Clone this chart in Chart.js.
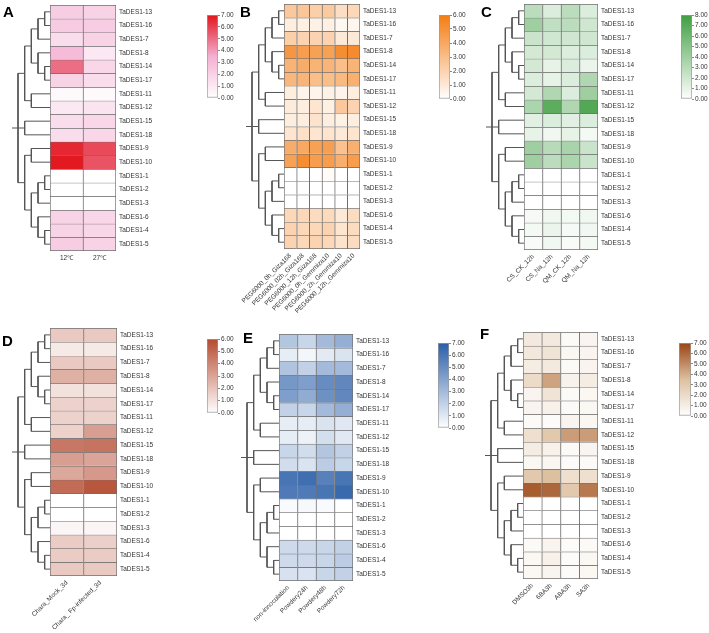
<!DOCTYPE html>
<html><head><meta charset="utf-8">
<script src="https://cdn.jsdelivr.net/npm/chart.js@4.4.1/dist/chart.umd.min.js"></script>
<style>
body{margin:0;background:#fff;width:709px;height:633px;overflow:hidden;position:relative}
canvas{position:absolute}
.lab{position:absolute;font:bold 15px 'Liberation Sans Narrow','Liberation Sans',Arial,sans-serif;line-height:15px;color:#000}
</style></head><body>
<script>
// ---------- data ----------
const genes = ['TaDES1-13','TaDES1-16','TaDES1-7','TaDES1-8','TaDES1-14','TaDES1-17','TaDES1-11','TaDES1-12','TaDES1-15','TaDES1-18','TaDES1-9','TaDES1-10','TaDES1-1','TaDES1-2','TaDES1-3','TaDES1-6','TaDES1-4','TaDES1-5'];
// tree topology (leaf suffixes)
const tree = [[[[['13','16'],'7'],['8',['14','17']]],['11','12']], ['15','18'], [['9','10'],[[['1','2'],'3'],['6',['4','5']]]]];

// Panel A
const colsA = ['12℃','27℃'];
const a12C = [2.2,2.3,1.5,3.0,5.0,2.0,0.2,1.0,1.5,1.5,6.6,6.9,0,0,0,2.0,2.0,2.2];
const a27C = [2.0,2.2,2.0,1.0,1.8,1.5,0.2,1.2,1.8,1.8,5.8,5.6,0,0,0,1.8,1.8,2.0];
const ticksA = [0,1,2,3,4,5,6,7];
// Panel B
const colsB = ['PEG6000_0h_Giza168','PEG6000_02h_Giza168','PEG6000_12h_Giza168','PEG6000_0h_Gemmiza10','PEG6000_2h_Gemmiza10','PEG6000_12h_Gemmiza10'];
const b0hGiza  = [2.5,0.8,2.2,4.8,3.5,3.3,0.8,0.9,0.8,1.2,3.8,4.3,0,0,0,1.8,2.0,2.0];
const b2hGiza  = [2.6,0.7,2.0,4.5,3.8,3.4,0.5,0.8,0.8,1.4,4.0,5.2,0,0,0,1.8,1.8,1.8];
const b12hGiza = [2.2,0.6,2.0,4.3,3.5,3.0,0.5,1.2,1.3,1.2,4.3,4.5,0,0,0,1.6,1.8,2.0];
const b0hGem   = [2.4,0.7,2.0,4.3,3.4,3.0,0.6,0.7,0.8,1.2,4.4,4.5,0.2,0,0,1.7,2.0,1.8];
const b2hGem   = [1.5,0.3,1.0,5.2,3.0,3.2,0.5,2.5,0.6,1.0,2.8,3.7,0,0,0,1.0,1.2,1.3];
const b12hGem  = [1.8,0.4,1.0,5.3,3.5,3.6,0.8,2.0,0.8,1.2,3.6,4.5,0,0,0,1.6,1.6,1.6];
const ticksB = [0,1,2,3,4,5,6];
// Panel C
const colsC = ['CS_CK_12h','CS_Na_12h','QM_CK_12h','QM_Na_12h'];
const cCSCK = [2.8,4.0,2.2,1.8,1.8,1.5,1.8,3.5,1.2,1.0,4.0,4.0,0,0,0,0.4,0.5,0.3];
const cCSNa = [1.5,2.6,2.0,1.8,1.0,1.0,3.3,6.8,1.5,0.6,3.0,2.8,0,0,0,0.6,0.8,0.6];
const cQMCK = [2.8,2.8,2.0,1.5,1.5,1.5,1.5,3.3,1.2,1.0,3.6,3.5,0,0,0,0.5,0.4,0.3];
const cQMNa = [1.5,2.0,2.0,1.5,0.8,3.3,4.0,7.2,1.5,0.5,2.2,2.2,0,0,0,0.6,0.6,0.5];
const ticksC = [0,1,2,3,4,5,6,7,8];
// Panel D
const colsD = ['Chara_Mock_3d','Chara_ Fp-infected_3d'];
const dMock = [1.8,0.7,1.8,2.6,1.0,1.5,1.5,1.5,4.5,3.2,2.9,4.9,0,0,0.3,1.7,1.7,1.8];
const dFp   = [1.8,0.7,1.8,2.6,1.0,1.5,1.5,3.2,4.6,3.0,3.4,5.6,0,0,0.3,1.6,1.7,1.8];
const ticksD = [0,1,2,3,4,5,6];
// Panel E
const colsE = ['non-innoculation','Powdery24h','Powdery48h','Powdery72h'];
const eNon = [2.5,0.8,2.6,4.5,4.2,2.0,0.8,0.8,1.8,1.5,6.0,5.8,0.2,0,0,1.6,1.6,1.3];
const e24h = [1.8,0.4,2.0,4.2,3.6,1.8,0.8,0.6,1.5,1.2,6.3,5.8,0.3,0,0,1.6,1.6,1.2];
const e48h = [3.0,0.9,3.0,5.0,4.8,3.0,1.2,1.4,2.5,2.2,5.5,6.0,0.2,0,0,1.8,1.8,1.8];
const e72h = [3.5,1.2,3.0,5.2,5.2,3.5,1.0,1.0,2.0,1.8,6.0,6.5,0,0,0,2.0,2.2,2.0];
const ticksE = [0,1,2,3,4,5,6,7];
// Panel F
const colsF = ['DMSO3h','6BA3h','ABA3h','SA3h'];
const fDMSO = [1.2,1.3,1.0,2.0,0.6,0.6,0.3,1.8,1.0,0.4,3.0,6.3,0,0,0,0.3,0.4,0.4];
const f6BA  = [1.2,1.5,1.2,4.3,1.5,0.8,0.2,3.0,0.8,0.5,3.5,6.0,0,0,0,0.6,0.8,0.6];
const fABA  = [0.3,0.5,0.3,0.7,0.3,0.3,0.6,4.5,0.3,0.2,1.8,3.0,0,0,0,0.2,0.2,0.2];
const fSA   = [0.6,0.6,0.6,1.0,0.4,0.4,0.5,4.5,0.6,0.3,1.8,5.5,0,0,0,0.3,0.4,0.4];
const ticksF = [0,1,2,3,4,5,6,7];

// ---------- layout / style ----------
const panels = [
  {letter:'A', lx:3, ly:4, cols:colsA, values:[a12C,a27C], ticks:ticksA, rot:0,
   hx:50, hy:5, hw:66, hh:246, cx:207, cy:15, cw:10, ch:83,
   stops:[[0,'#ffffff'],[0.5,'#f3b0d2'],[1,'#e2151b']]},
  {letter:'B', lx:240, ly:4, cols:colsB, values:[b0hGiza,b2hGiza,b12hGiza,b0hGem,b2hGem,b12hGem], ticks:ticksB, rot:45,
   hx:284, hy:4, hw:76, hh:245, cx:439, cy:15, cw:10, ch:84,
   stops:[[0,'#ffffff'],[1,'#f47c12']]},
  {letter:'C', lx:481, ly:4, cols:colsC, values:[cCSCK,cCSNa,cQMCK,cQMNa], ticks:ticksC, rot:45,
   hx:524, hy:4, hw:74, hh:246, cx:681, cy:15, cw:10, ch:84,
   stops:[[0,'#ffffff'],[1,'#3f9e42']]},
  {letter:'D', lx:2, ly:333, cols:colsD, values:[dMock,dFp], ticks:ticksD, rot:45,
   hx:50, hy:328, hw:67, hh:248, cx:207, cy:339, cw:10, ch:74,
   stops:[[0,'#ffffff'],[1,'#b44a30']]},
  {letter:'E', lx:243, ly:330, cols:colsE, values:[eNon,e24h,e48h,e72h], ticks:ticksE, rot:45,
   hx:279, hy:334, hw:74, hh:247, cx:438, cy:343, cw:10, ch:85,
   stops:[[0,'#ffffff'],[1,'#2a5ea8']]},
  {letter:'F', lx:480, ly:326, cols:colsF, values:[fDMSO,f6BA,fABA,fSA], ticks:ticksF, rot:45,
   hx:523, hy:332, hw:75, hh:247, cx:679, cy:343, cw:11, ch:73,
   stops:[[0,'#ffffff'],[0.5,'#ddc0a0'],[1,'#9a4414']]}
];
const FAM = "'Liberation Sans Narrow','Liberation Sans',Arial,sans-serif";
const rowFont = {family:FAM, size:6.5};
const tickFont = {family:"'Liberation Sans',Arial,sans-serif", size:6.5};
const TXT = '#333';
const CELL_BORDER = '#6f6f6f';

function hex2rgb(h){h=h.replace('#','');return [0,2,4].map(i=>parseInt(h.substr(i,2),16));}
function colorFor(stops, max, v){
  const t = Math.max(0, Math.min(1, v/max));
  for (let i=1;i<stops.length;i++){
    if (t <= stops[i][0]) {
      const a = stops[i-1], b = stops[i];
      const f = (t - a[0])/(b[0]-a[0]);
      const ca = hex2rgb(a[1]), cb = hex2rgb(b[1]);
      const c = ca.map((x,k)=>Math.round(x + (cb[k]-x)*f));
      return `rgb(${c[0]},${c[1]},${c[2]})`;
    }
  }
  return stops[stops.length-1][1];
}
function makeCanvas(left, top, w, h){
  const c = document.createElement('canvas');
  c.width = w; c.height = h;
  c.style.left = left+'px'; c.style.top = top+'px';
  c.style.width = w+'px'; c.style.height = h+'px';
  document.body.appendChild(c);
  return c;
}
const base = {responsive:false, animation:false, devicePixelRatio:1,
  plugins:{legend:{display:false}, tooltip:{enabled:false}}};

function heatmap(p){
  const padL = 70, padT = 2, labW = 60, labH = 80;
  const c = makeCanvas(p.hx - padL, p.hy - padT, p.hw + padL + labW, p.hh + padT + labH);
  const nc = p.cols.length, nr = genes.length;
  const datasets = genes.map((g, r) => ({
    data: p.cols.map(() => [r, r+1]),
    backgroundColor: p.values.map(col => colorFor(p.stops, p.ticks[p.ticks.length-1], col[r])),
    borderColor: CELL_BORDER,
    borderWidth: ctx => ({top:1, left:1, right: ctx.dataIndex === nc-1 ? 1 : 0, bottom: r === nr-1 ? 1 : 0}),
    borderSkipped: false, barPercentage: 1, categoryPercentage: 1, grouped: false
  }));
  new Chart(c, {type:'bar', data:{labels:p.cols, datasets}, options:Object.assign({}, base, {
    layout:{padding:{left:padL, top:padT, right:0, bottom:0}},
    scales:{
      x:{grid:{display:false, drawTicks:false}, border:{display:false},
         ticks:{font:rowFont, color:TXT, minRotation:p.rot, maxRotation:p.rot, padding:3, autoSkip:false},
         afterFit(s){ s.height = labH; s.paddingLeft = 0; s.paddingRight = 0; }},
      y:{type:'linear', position:'right', reverse:true, min:0, max:nr,
         grid:{display:false, drawTicks:false}, border:{display:false},
         ticks:{autoSkip:false, padding:3, font:rowFont, color:TXT, callback:(v,i)=>genes[i]},
         afterBuildTicks(s){ s.ticks = genes.map((g,i)=>({value:i+0.5})); },
         afterFit(s){ s.width = labW; s.paddingTop = 0; s.paddingBottom = 0; }}
    }
  })});
}

function colorbar(p){
  const max = p.ticks[p.ticks.length-1];
  const c = makeCanvas(p.cx - 1, p.cy - 6, p.cw + 34, p.ch + 12);
  new Chart(c, {type:'bar', data:{labels:[''], datasets:[{
    data:[max],
    backgroundColor: ctx => {
      const a = ctx.chart.chartArea; if (!a) return '#fff';
      const g = ctx.chart.ctx.createLinearGradient(0, a.bottom, 0, a.top);
      p.stops.forEach(s => g.addColorStop(s[0], s[1]));
      return g;
    },
    borderColor:'#9a9a9a', borderWidth:1, borderSkipped:false, barPercentage:1, categoryPercentage:1}]},
    options:Object.assign({}, base, {
      layout:{padding:{left:1, top:6, bottom:6, right:0}},
      scales:{
        x:{display:false},
        y:{position:'right', min:0, max:max,
           afterBuildTicks(s){ s.ticks = p.ticks.map(v=>({value:v})); },
           ticks:{font:tickFont, color:TXT, padding:1, autoSkip:false, callback:v=>Number(v).toFixed(2)},
           grid:{drawOnChartArea:false, tickLength:2, color:'#888'}, border:{display:false},
           afterFit(s){ s.width = 32; s.paddingTop = 0; s.paddingBottom = 0; }}
      }
    })});
}

function dendro(p){
  const stubX = -0.9, leafX = 4.8, W = 39;
  const c = makeCanvas(p.hx - W, p.hy - 2, W, p.hh + 4);
  const pts = [];
  function seg(x1,y1,x2,y2){ pts.push({x:x1,y:y1},{x:x2,y:y2},{x:null,y:null}); }
  function lay(node, depth){
    if (!Array.isArray(node)) return {x:leafX, y:genes.indexOf('TaDES1-'+node)+0.5};
    const ch = node.map(n => lay(n, depth+1));
    const y = ch.reduce((s,q)=>s+q.y,0)/ch.length;
    const ys = ch.map(q=>q.y);
    seg(depth, Math.min(...ys), depth, Math.max(...ys));
    ch.forEach(q => seg(depth, q.y, q.x, q.y));
    return {x:depth, y};
  }
  const root = lay(tree, 0);
  seg(stubX, root.y, 0, root.y);
  new Chart(c, {type:'scatter', data:{datasets:[{data:pts, showLine:true, spanGaps:false,
      borderColor:'#555', borderWidth:1, pointRadius:0, clip:false}]},
    options:Object.assign({}, base, {
      layout:{padding:{left:0, right:0, top:2, bottom:2}},
      scales:{
        x:{type:'linear', display:false, min:-1.05, max:leafX},
        y:{type:'linear', display:false, reverse:true, min:0, max:genes.length}
      }
    })});
}

panels.forEach(p => {
  heatmap(p); colorbar(p); dendro(p);
  const d = document.createElement('div');
  d.className = 'lab'; d.textContent = p.letter;
  d.style.left = p.lx+'px'; d.style.top = p.ly+'px';
  document.body.appendChild(d);
});
</script>
</body></html>
